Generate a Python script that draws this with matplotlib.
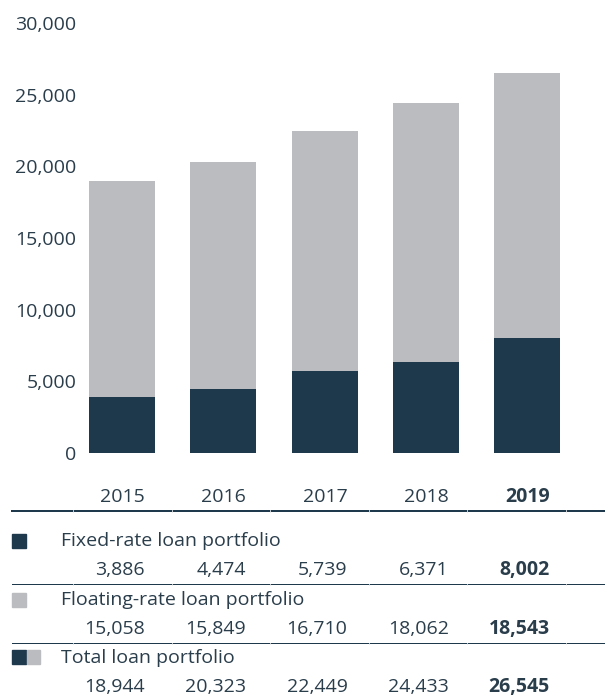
import matplotlib
matplotlib.use("Agg")
import matplotlib.pyplot as plt
from matplotlib.transforms import blended_transform_factory
from matplotlib.patches import Rectangle

# Loan portfolio by year
years = ['2015', '2016', '2017', '2018', '2019']
fixed_rate = [3886, 4474, 5739, 6371, 8002]
floating_rate = [15058, 15849, 16710, 18062, 18543]
total = [18944, 20323, 22449, 24433, 26545]
row_labels = ['Fixed-rate loan portfolio', 'Floating-rate loan portfolio', 'Total loan portfolio']

DARK = '#1e384c'
GREY = '#bbbcc0'
TEXT = '#2a3d4b'
W, H = 605, 696

plt.rcParams['font.family'] = ['Open Sans', 'DejaVu Sans']
plt.rcParams['font.size'] = 14

fig = plt.figure(figsize=(W / 100, H / 100), dpi=100)


def fy(px):
    # pixel row from the top -> figure fraction
    return 1 - px / H


def fx(px):
    return px / W


# bar chart area
ax_left, ax_right, ax_top, ax_bottom = 82, 605, 23, 453
ax = fig.add_axes([fx(ax_left), fy(ax_bottom), fx(ax_right - ax_left), (ax_bottom - ax_top) / H])
step = 101.25
x0 = 122
ax.set_xlim((ax_left - x0) / step, (ax_right - x0) / step)
ax.set_ylim(0, 30000)

xs = range(len(years))
ax.bar(xs, fixed_rate, width=66 / step, color=DARK)
ax.bar(xs, floating_rate, bottom=fixed_rate, width=66 / step, color=GREY)

ax.set_yticks(range(0, 30001, 5000))
ax.set_yticklabels([f'{v:,}' for v in range(0, 30001, 5000)], color=TEXT)
ax.tick_params(axis='y', length=0, pad=4)
ax.set_xticks([])
for s in ax.spines.values():
    s.set_visible(False)

# data table underneath
tr = blended_transform_factory(ax.transData, fig.transFigure)
off = 23 / step


def draw_row(values, y, bold_last=True):
    for i, v in enumerate(values):
        label = v if isinstance(v, str) else f'{v:,}'
        fig.text(i + off, fy(y), label, transform=tr, ha='right', va='center',
                 color=TEXT, fontweight='bold' if (bold_last and i == len(values) - 1) else 'normal')


draw_row(years, 497)

# horizontal rules with faint column breaks
for y, lw in [(511, 2.0), (584, 1.0), (643, 1.0)]:
    fig.add_artist(plt.Line2D([fx(12), 1], [fy(y), fy(y)], color=DARK, lw=lw * 0.72))
    for gx in [73, 172, 270, 369, 467, 566]:
        fig.add_artist(plt.Line2D([fx(gx), fx(gx)], [fy(y - lw / 2), fy(y + lw / 2)],
                                  color='#e4e7ea', lw=0.6))

label_y = [541, 600, 658]
num_y = [570, 629, 687]
for lab, ly in zip(row_labels, label_y):
    fig.text(fx(61), fy(ly), lab, ha='left', va='center', color=TEXT)

# legend swatches
sq = 14
fig.add_artist(Rectangle((fx(12), fy(548)), fx(sq), sq / H, color=DARK))
fig.add_artist(Rectangle((fx(12), fy(607)), fx(sq), sq / H, color=GREY))
fig.add_artist(Rectangle((fx(12), fy(664)), fx(sq), sq / H, color=DARK))
fig.add_artist(Rectangle((fx(27), fy(664)), fx(13), sq / H, color=GREY))

draw_row(fixed_rate, num_y[0])
draw_row(floating_rate, num_y[1])
draw_row(total, num_y[2])

fig.savefig('out.png', dpi=100)
